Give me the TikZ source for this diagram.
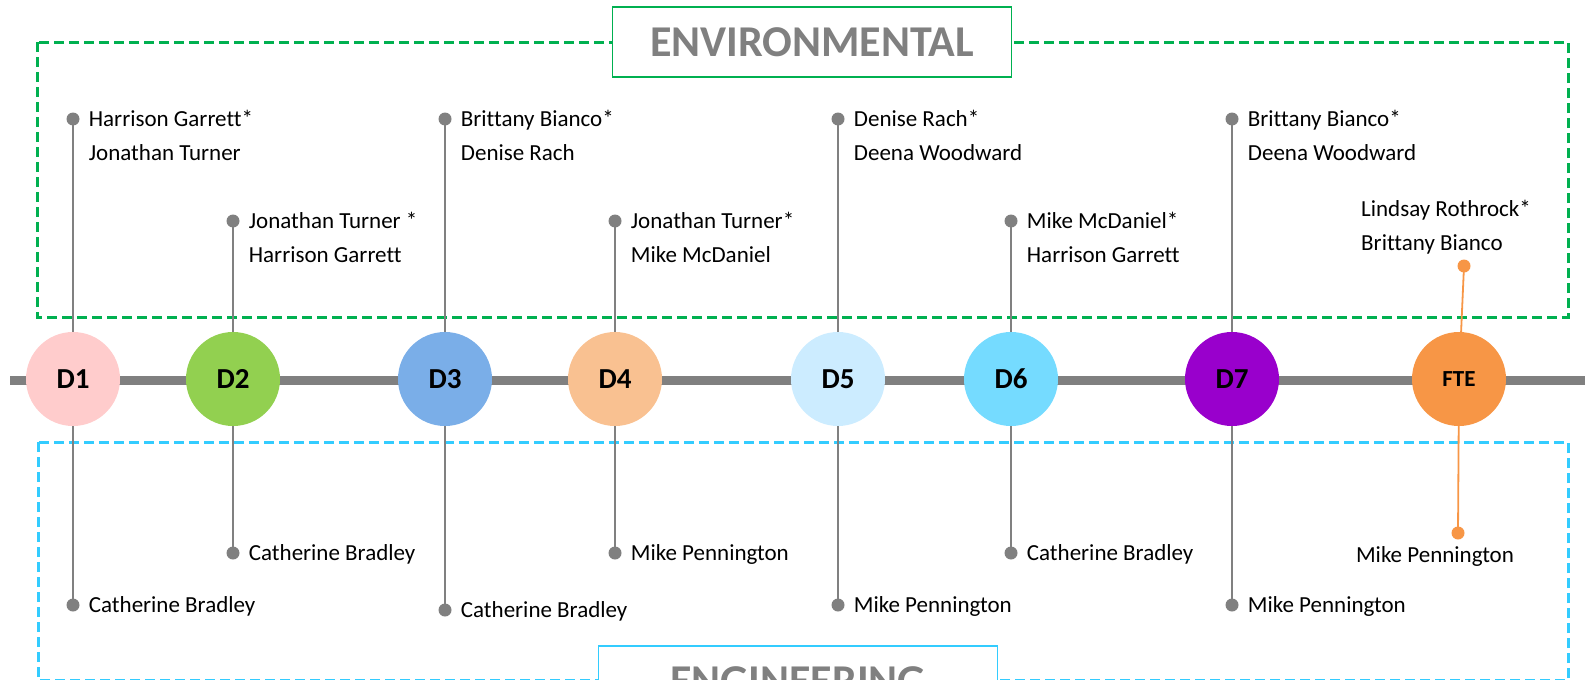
\documentclass[tikz,border=0pt]{standalone}
\usepackage{fontspec}
\setmainfont{Carlito}[Ligatures=NoCommon]
\usetikzlibrary{positioning}
\definecolor{my_gray}{RGB}{128, 128, 128}
\definecolor{my_greendash}{RGB}{0, 176, 80}
\definecolor{my_bluedash}{RGB}{51, 204, 255}
\definecolor{my_pink}{RGB}{255, 204, 204}
\definecolor{my_green}{RGB}{146, 208, 80}
\definecolor{my_blue}{RGB}{122, 174, 232}
\definecolor{my_peach}{RGB}{249, 193, 145}
\definecolor{my_paleblue}{RGB}{204, 236, 255}
\definecolor{my_cyan}{RGB}{117, 219, 255}
\definecolor{my_purple}{RGB}{153, 0, 204}
\definecolor{my_orange}{RGB}{247, 150, 70}
\tikzset {
  area/.style = {dash pattern=on 10pt off 5pt, line width=3pt},
  title/.style = {draw, line width=1.5pt, fill=white, minimum width=399pt, minimum height=70pt, inner sep=0, text=my_gray, font=\bfseries\fontsize{44}{44}\selectfont},
  timeline/.style = {line width=9pt, color=my_gray},
  mile/.style = {circle, minimum size=94pt, inner sep=0, font=\bfseries\fontsize{29}{29}\selectfont},
  stem/.style = {line width=1.8pt, color=my_gray},
  dot/.style = {circle, fill=my_gray, minimum size=13pt, inner sep=0},
  person/.style = {inner sep=0, text height=17.5pt, text depth=3pt, font=\fontsize{23}{23}\selectfont}
}

\begin{document}
\begin{tikzpicture}[x=1pt, y=-1pt, node distance=9pt]
    \useasboundingbox (0,0) rectangle (1585,680);
    \clip (0,0) rectangle (1585,680);

    % areas
    \draw[area, my_greendash] (37,42) rectangle (1568,317);
    \draw[area, my_bluedash] (38,442) rectangle (1568,680);
    \node[title, draw=my_greendash] (env) at (812,42) {ENVIRONMENTAL};
    \node[title, draw=my_bluedash] (eng) at (798,681) {ENGINEERING};

    % timeline
    \coordinate (lstart) at (10,380);
    \coordinate (lend) at (1585,380);
    \draw[timeline] (lstart) -- (lend);

    \node[dot] (t1) at (73,119) {};
    \node[dot] (b1) at (73,605) {};
    \node[dot] (t2) at (233,221) {};
    \node[dot] (b2) at (233,553) {};
    \node[dot] (t3) at (445,119) {};
    \node[dot] (b3) at (445,610) {};
    \node[dot] (t4) at (615,221) {};
    \node[dot] (b4) at (615,553) {};
    \node[dot] (t5) at (838,119) {};
    \node[dot] (b5) at (838,605) {};
    \node[dot] (t6) at (1011,221) {};
    \node[dot] (b6) at (1011,553) {};
    \node[dot] (t7) at (1232,119) {};
    \node[dot] (b7) at (1232,605) {};
    \node[dot, fill=my_orange] (ft) at (1464,266) {};
    \node[dot, fill=my_orange] (fb) at (1458,533) {};

    \node[mile, fill=my_pink] (d1) at (73,379) {D1};
    \node[mile, fill=my_green] (d2) at (233,379) {D2};
    \node[mile, fill=my_blue] (d3) at (445,379) {D3};
    \node[mile, fill=my_peach] (d4) at (615,379) {D4};
    \node[mile, fill=my_paleblue] (d5) at (838,379) {D5};
    \node[mile, fill=my_cyan] (d6) at (1011,379) {D6};
    \node[mile, fill=my_purple] (d7) at (1232,379) {D7};
    \node[mile, fill=my_orange, font=\bfseries\fontsize{23}{23}\selectfont] (fte) at (1459,379) {FTE};

    \draw[stem] (t1.center) -- (d1);
    \draw[stem] (b1.center) -- (d1);
    \draw[stem] (t2.center) -- (d2);
    \draw[stem] (b2.center) -- (d2);
    \draw[stem] (t3.center) -- (d3);
    \draw[stem] (b3.center) -- (d3);
    \draw[stem] (t4.center) -- (d4);
    \draw[stem] (b4.center) -- (d4);
    \draw[stem] (t5.center) -- (d5);
    \draw[stem] (b5.center) -- (d5);
    \draw[stem] (t6.center) -- (d6);
    \draw[stem] (b6.center) -- (d6);
    \draw[stem] (t7.center) -- (d7);
    \draw[stem] (b7.center) -- (d7);
    \draw[stem, my_orange] (ft.center) -- (fte);
    \draw[stem, my_orange] (fb.center) -- (fte);

    % people
    \node[person, right=of t1] (t1a) {Harrison Garrett*};
    \node[person, below=13.5pt of t1a.south west, anchor=north west] (t1b) {Jonathan Turner};
    \node[person, right=of b1] (b1a) {Catherine Bradley};
    \node[person, right=of t2] (t2a) {Jonathan Turner *};
    \node[person, below=13.5pt of t2a.south west, anchor=north west] (t2b) {Harrison Garrett};
    \node[person, right=of b2] (b2a) {Catherine Bradley};
    \node[person, right=of t3] (t3a) {Brittany Bianco*};
    \node[person, below=13.5pt of t3a.south west, anchor=north west] (t3b) {Denise Rach};
    \node[person, right=of b3] (b3a) {Catherine Bradley};
    \node[person, right=of t4] (t4a) {Jonathan Turner*};
    \node[person, below=13.5pt of t4a.south west, anchor=north west] (t4b) {Mike McDaniel};
    \node[person, right=of b4] (b4a) {Mike Pennington};
    \node[person, right=of t5] (t5a) {Denise Rach*};
    \node[person, below=13.5pt of t5a.south west, anchor=north west] (t5b) {Deena Woodward};
    \node[person, right=of b5] (b5a) {Mike Pennington};
    \node[person, right=of t6] (t6a) {Mike McDaniel*};
    \node[person, below=13.5pt of t6a.south west, anchor=north west] (t6b) {Harrison Garrett};
    \node[person, right=of b6] (b6a) {Catherine Bradley};
    \node[person, right=of t7] (t7a) {Brittany Bianco*};
    \node[person, below=13.5pt of t7a.south west, anchor=north west] (t7b) {Deena Woodward};
    \node[person, right=of b7] (b7a) {Mike Pennington};
    \node[person, anchor=west] (fta) at (1361,209) {Lindsay Rothrock*};
    \node[person, below=13.5pt of fta.south west, anchor=north west] (ftb) {Brittany Bianco};
    \node[person, below=5pt of fb, xshift=-23pt] (fba) {Mike Pennington};

\end{tikzpicture}
\end{document}
